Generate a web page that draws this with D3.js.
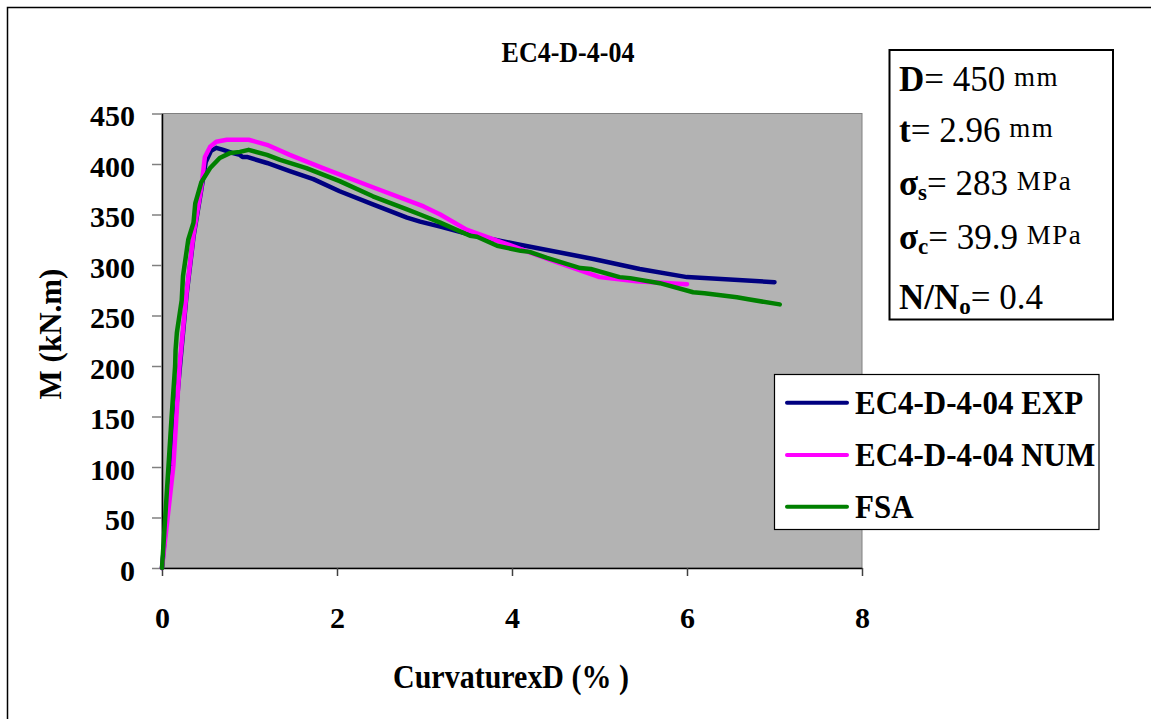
<!DOCTYPE html>
<html>
<head>
<meta charset="utf-8">
<script src="https://cdn.jsdelivr.net/npm/d3@7"></script>
<style>
  body { margin: 0; background: #fff; }
  text { font-family: "Liberation Serif", "Times New Roman", serif; }
</style>
</head>
<body>
<svg width="1151" height="719"></svg>
<script>
// curvature x D (%) vs moment (kN.m)
var expX = [0, 0.1, 0.2, 0.28, 0.36, 0.45, 0.5, 0.56, 0.62, 0.7, 0.8, 0.89, 0.92, 0.97, 1.2, 1.46, 1.73, 2.03, 2.41, 2.8, 2.95, 3.18, 3.52, 4.09, 4.93, 5.46, 6.0, 7.0];
var expM = [0, 95, 195, 270, 328, 375, 402, 413, 416, 414, 411, 409, 407, 407, 401, 393, 385, 373, 360, 347, 343, 338, 330, 320, 306, 296, 288, 283];

var numX = [0, 0.13, 0.2, 0.28, 0.36, 0.45, 0.49, 0.55, 0.62, 0.74, 0.99, 1.2, 1.46, 1.84, 2.41, 2.99, 3.18, 3.48, 3.9, 4.47, 5.0, 5.42, 6.0];
var numM = [0, 101, 200, 272, 330, 377, 407, 417, 422, 424, 424, 419, 409, 396, 377, 358, 350, 335, 322, 304, 288, 284, 281];

var fsaX = [0, 0.05, 0.11, 0.15, 0.155, 0.17, 0.225, 0.24, 0.3, 0.36, 0.38, 0.45, 0.55, 0.66, 0.78, 0.89, 0.99, 1.2, 1.35, 1.65, 2.03, 2.41, 2.8, 2.95, 3.18, 3.52, 3.6, 3.83, 4.1, 4.2, 4.4, 4.78, 4.9, 5.23, 5.35, 5.69, 6.07, 6.2, 6.57, 6.7, 7.06];
var fsaM = [0, 68, 150, 200, 216, 233, 265, 289, 325, 342, 361, 382, 396, 406, 411, 412, 414, 409, 404, 396, 383, 368, 355, 350, 342, 329, 328, 319, 314, 313, 307, 297, 296, 288, 287, 282, 273, 272, 268, 266, 261];

var seriesNames = ["EC4-D-4-04 EXP", "EC4-D-4-04 NUM", "FSA"];
var seriesColors = ["#000080", "#ff00ff", "#008000"];
var xTicks = [0, 2, 4, 6, 8];
var yTicks = [0, 50, 100, 150, 200, 250, 300, 350, 400, 450];

var svg = d3.select("svg");

// outer frame (only top and left edges show in the picture)
svg.append("rect")
    .attr("x", 7.5).attr("y", 7.5)
    .attr("width", 1200).attr("height", 800)
    .attr("fill", "none").attr("stroke", "#000").attr("stroke-width", 1.5);

var x = d3.scaleLinear().domain([0, 8]).range([162, 862]);
var y = d3.scaleLinear().domain([0, 450]).range([568, 113.5]);

// plot area
svg.append("rect")
    .attr("x", x(0)).attr("y", y(450))
    .attr("width", x(8) - x(0)).attr("height", y(0) - y(450))
    .attr("fill", "#b3b3b3").attr("stroke", "#808080").attr("stroke-width", 1);

var yAxis = svg.append("g")
    .attr("transform", "translate(" + x(0) + ",0)")
    .call(d3.axisLeft(y).tickValues(yTicks).tickSize(10).tickSizeOuter(0).tickPadding(17));
yAxis.select(".domain").attr("stroke", "#000").attr("stroke-width", 1.5);
yAxis.selectAll(".tick line").attr("stroke", "#808080").attr("stroke-width", 1.5);
yAxis.selectAll("text")
    .attr("dy", "0.4em")
    .attr("font-size", 30).attr("font-weight", "bold").attr("fill", "#000")
    .style("font-family", "'Liberation Serif', 'Times New Roman', serif");

var xAxis = svg.append("g")
    .attr("transform", "translate(0," + y(0) + ")")
    .call(d3.axisBottom(x).tickValues(xTicks).tickSize(8).tickSizeOuter(0));
xAxis.select(".domain").attr("stroke", "#000").attr("stroke-width", 1.5);
xAxis.selectAll(".tick line").attr("stroke", "#404040").attr("stroke-width", 1.5);
xAxis.selectAll("text")
    .attr("y", 60).attr("dy", 0)
    .attr("font-size", 30).attr("font-weight", "bold").attr("fill", "#000")
    .style("font-family", "'Liberation Serif', 'Times New Roman', serif");

// curves
var line = d3.line()
    .x(function(d) { return x(d[0]); })
    .y(function(d) { return y(d[1]); });

var series = [d3.zip(expX, expM), d3.zip(numX, numM), d3.zip(fsaX, fsaM)];
series.forEach(function(pts, i) {
    svg.append("path")
        .datum(pts)
        .attr("d", line)
        .attr("fill", "none")
        .attr("stroke", seriesColors[i])
        .attr("stroke-width", 4.5)
        .attr("stroke-linejoin", "round")
        .attr("stroke-linecap", "round");
});

// title
svg.append("text")
    .attr("transform", "translate(568,62) scale(1,1.15)")
    .attr("text-anchor", "middle")
    .attr("font-size", 26).attr("font-weight", "bold")
    .text("EC4-D-4-04");

// axis titles
svg.append("text")
    .attr("transform", "translate(511,688) scale(1,1.1)")
    .attr("text-anchor", "middle")
    .attr("font-size", 30).attr("font-weight", "bold")
    .text("CurvaturexD (% )");

svg.append("text")
    .attr("transform", "translate(61,334) rotate(-90)")
    .attr("text-anchor", "middle")
    .attr("font-size", 31).attr("font-weight", "bold")
    .text("M (kN.m)");

// legend
var legend = svg.append("g");
legend.append("rect")
    .attr("x", 774.5).attr("y", 374.5)
    .attr("width", 324.5).attr("height", 155)
    .attr("fill", "#fff").attr("stroke", "#000").attr("stroke-width", 1.2);

var legendY = [402.7, 455, 506.7];
seriesNames.forEach(function(name, i) {
    legend.append("line")
        .attr("x1", 787).attr("x2", 847)
        .attr("y1", legendY[i]).attr("y2", legendY[i])
        .attr("stroke", seriesColors[i]).attr("stroke-width", 4)
        .attr("stroke-linecap", "round");
    legend.append("text")
        .attr("transform", "translate(855," + (legendY[i] + 11) + ") scale(1,1.1)")
        .attr("font-size", 31).attr("font-weight", "bold")
        .text(name);
});

// parameters box
var info = svg.append("g");
info.append("rect")
    .attr("x", 889.5).attr("y", 50)
    .attr("width", 223.5).attr("height", 269.5)
    .attr("fill", "#fff").attr("stroke", "#000").attr("stroke-width", 2);

var infoLines = [
    { y: 91,  parts: [["D", "b"], ["= 450 ", "n"], ["mm", "u"]] },
    { y: 142, parts: [["t", "b"], ["= 2.96 ", "n"], ["mm", "u"]] },
    { y: 195, parts: [["σ", "b"], ["s", "sub"], ["= 283 ", "n"], ["MPa", "u"]] },
    { y: 249, parts: [["σ", "b"], ["c", "sub"], ["= 39.9 ", "n"], ["MPa", "u"]] },
    { y: 309, parts: [["N/N", "b"], ["o", "sub"], ["= 0.4", "n"]] }
];

infoLines.forEach(function(ln) {
    var t = info.append("text")
        .attr("x", 899).attr("y", ln.y)
        .attr("font-size", 35);
    var shift = 0;
    ln.parts.forEach(function(p) {
        var s = t.append("tspan").text(p[0]);
        var want = 0;
        if (p[1] === "b") s.attr("font-weight", "bold");
        if (p[1] === "sub") { s.attr("font-weight", "bold").attr("font-size", 23); want = 5; }
        if (p[1] === "u") { s.attr("font-size", 27).attr("letter-spacing", 1.5); want = -5; }
        s.attr("dy", want - shift);
        shift = want;
    });
});
</script>
</body>
</html>
